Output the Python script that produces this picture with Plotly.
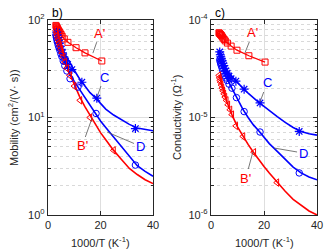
import numpy as np
import plotly.graph_objects as go

# ---------------- data ----------------
# panel b) mobility, cm^2/(V s)
mob_A_x = [3.0, 3.2, 3.4, 3.6, 3.8, 4.0, 4.3, 4.6, 5.0, 5.4, 6.2, 7.6, 10.7, 14.1, 20.5]
mob_A_y = [88, 86, 84, 82, 80, 78, 76, 74, 71, 68, 64, 59, 52, 46, 38]

mob_C_x = [3.3, 3.5, 3.7, 4.0, 4.3, 4.6, 5.0, 5.5, 6.0, 6.7, 7.5, 9.1, 12.9, 18.6, 33.3]
mob_C_y = [75, 70, 66, 62, 58, 54, 50, 46, 42, 38, 35, 31, 23, 15.8, 7.7]

mob_D_x = [3.0, 3.2, 3.4, 3.6, 3.9, 4.2, 4.5, 4.9, 5.3, 5.8, 6.4, 7.2, 8.4, 11.4, 18.3, 33.3]
mob_D_y = [70, 66, 62, 59, 55, 52, 49, 45, 42, 38, 34, 30, 25, 20.5, 11.0, 3.25]

mob_B_x = [3.0, 3.2, 3.4, 3.6, 3.9, 4.2, 4.5, 4.9, 5.3, 5.8, 6.4, 7.2, 8.3, 10.0, 12.2, 16.0, 25.0]
mob_B_y = [78, 74, 70, 66, 62, 58, 54, 50, 46, 42, 37, 32, 27, 21, 15, 10, 4.6]

fit_x = [3, 4, 5, 6, 8, 10, 12, 14, 16, 18, 20, 22, 25, 28, 31, 34, 37, 40]
mob_C_fit = [78, 64, 54, 47, 37.5, 30.5, 25, 21, 18, 16.0, 13.8, 12.2, 10.6, 9.4, 8.5, 7.8, 7.5, 7.3]
mob_D_fit = [70, 56, 46, 39, 29, 23.5, 19.5, 16, 13.5, 11.0, 9.2, 7.9, 6.3, 5.0, 4.0, 3.2, 2.8, 2.5]
mob_B_fit = [80, 62, 50, 41, 29, 22, 16.5, 13, 10.5, 8.5, 7.0, 5.9, 4.6, 3.7, 3.0, 2.6, 2.3, 2.1]

# panel c) conductivity, 1/Ohm
con_A_x = [3.0, 3.2, 3.4, 3.6, 3.8, 4.0, 4.3, 4.6, 5.0, 5.4, 6.2, 7.6, 9.8, 14.3, 20.4]
con_A_y = [7.4e-5, 7.3e-5, 7.2e-5, 7.1e-5, 7.0e-5, 6.9e-5, 6.7e-5, 6.5e-5, 6.3e-5, 6.1e-5,
           5.8e-5, 5.4e-5, 4.9e-5, 4.3e-5, 3.7e-5]

con_C_x = [3.3, 3.5, 3.7, 3.9, 4.2, 4.5, 4.8, 5.2, 5.6, 6.1, 6.8, 7.6, 9.4, 12.5, 18.5, 33.3]
con_C_y = [4.7e-5, 4.4e-5, 4.2e-5, 4.0e-5, 3.8e-5, 3.6e-5, 3.4e-5, 3.2e-5, 3.0e-5, 2.85e-5,
           2.65e-5, 2.5e-5, 2.36e-5, 1.95e-5, 1.41e-5, 7.2e-6]

con_D_x = [3.3, 3.5, 3.7, 3.9, 4.2, 4.5, 4.8, 5.2, 5.6, 6.1, 6.8, 7.9, 9.6, 12.5, 18.5, 33.3]
con_D_y = [3.9e-5, 3.7e-5, 3.55e-5, 3.4e-5, 3.2e-5, 3.0e-5, 2.85e-5, 2.7e-5, 2.55e-5, 2.4e-5,
           2.2e-5, 2.0e-5, 1.6e-5, 1.15e-5, 7.1e-6, 2.7e-6]

con_B_x = [3.0, 3.2, 3.4, 3.6, 3.9, 4.2, 4.5, 4.9, 5.3, 5.8, 6.4, 7.2, 7.9, 9.4, 12.1, 16.2, 24.9]
con_B_y = [2.7e-5, 2.55e-5, 2.4e-5, 2.3e-5, 2.15e-5, 2.0e-5, 1.88e-5, 1.75e-5, 1.62e-5, 1.5e-5,
           1.35e-5, 1.2e-5, 1.07e-5, 8.2e-6, 6.4e-6, 4.4e-6, 2.15e-6]

con_C_fit = [4.9e-5, 4.0e-5, 3.4e-5, 3.0e-5, 2.6e-5, 2.27e-5, 2.0e-5, 1.78e-5, 1.58e-5, 1.43e-5,
             1.3e-5, 1.17e-5, 1.02e-5, 8.9e-6, 7.9e-6, 7.2e-6, 6.8e-6, 6.6e-6]
con_D_fit = [4.0e-5, 3.35e-5, 2.9e-5, 2.5e-5, 1.95e-5, 1.55e-5, 1.22e-5, 1.0e-5, 8.4e-6, 7.3e-6,
             6.2e-6, 5.4e-6, 4.5e-6, 3.7e-6, 3.1e-6, 2.7e-6, 2.45e-6, 2.3e-6]
con_B_fit = [2.75e-5, 2.15e-5, 1.75e-5, 1.45e-5, 1.05e-5, 8.0e-6, 6.4e-6, 5.3e-6, 4.4e-6, 3.7e-6,
             3.15e-6, 2.7e-6, 2.15e-6, 1.75e-6, 1.45e-6, 1.25e-6, 1.1e-6, 1.0e-6]

RED = "#ff0000"
BLUE = "#0000ff"
GRID = "#dedede"
AX = "#262626"
FONT = "Liberation Sans, Arial, sans-serif"

W, H = 328, 250

fig = go.Figure()


def add_panel(xa, ya, A, C, D, B, fits):
    for fy, col in fits:
        fig.add_trace(go.Scatter(x=fit_x, y=fy, mode="lines", line=dict(color=col, width=1.6),
                                 xaxis=xa, yaxis=ya, hoverinfo="skip"))
    fig.add_trace(go.Scatter(x=A[0], y=A[1], mode="lines+markers",
                             line=dict(color=RED, width=1.3),
                             marker=dict(symbol="square-open", size=6, color=RED, line=dict(width=1)),
                             xaxis=xa, yaxis=ya))
    fig.add_trace(go.Scatter(x=C[0], y=C[1], mode="markers",
                             marker=dict(symbol="asterisk-open", size=7.5, color=BLUE, line=dict(width=1.2, color=BLUE)),
                             xaxis=xa, yaxis=ya))
    fig.add_trace(go.Scatter(x=D[0], y=D[1], mode="markers",
                             marker=dict(symbol="circle-open", size=6.5, color=BLUE, line=dict(width=1)),
                             xaxis=xa, yaxis=ya))
    fig.add_trace(go.Scatter(x=B[0], y=B[1], mode="markers",
                             marker=dict(symbol="triangle-left-open", size=6.5, color=RED, line=dict(width=1)),
                             xaxis=xa, yaxis=ya))


add_panel("x", "y", (mob_A_x, mob_A_y), (mob_C_x, mob_C_y), (mob_D_x, mob_D_y), (mob_B_x, mob_B_y),
          [(mob_C_fit, BLUE), (mob_D_fit, BLUE), (mob_B_fit, RED)])
add_panel("x2", "y2", (con_A_x, con_A_y), (con_C_x, con_C_y), (con_D_x, con_D_y), (con_B_x, con_B_y),
          [(con_C_fit, BLUE), (con_D_fit, BLUE), (con_B_fit, RED)])


def minor_vals(d0, d1):
    out = []
    for d in range(d0, d1):
        for m in range(2, 10):
            out.append(m * 10.0 ** d)
    return out


common_x = dict(range=[0, 40], tickvals=[0, 20, 40], ticks="inside", ticklen=4, tickcolor=AX,
                showline=True, linecolor=AX, linewidth=1.2, mirror="ticks", automargin=False,
                showgrid=True, gridcolor=GRID, gridwidth=1, zeroline=False,
                tickfont=dict(family=FONT, size=11, color=AX))


def ylayout(d0, d1):
    return dict(type="log", range=[d0, d1], tickvals=[10.0 ** d for d in range(d0, d1 + 1)],
                ticktext=["10<sup>%d</sup>" % d for d in range(d0, d1 + 1)],
                ticks="inside", ticklen=4, tickcolor=AX, automargin=False,
                minor=dict(tickmode="array", tickvals=minor_vals(d0, d1), ticks="inside", ticklen=2.5,
                           tickcolor=AX, showgrid=True, gridcolor="#d9d9d9", griddash="dot", gridwidth=1),
                showline=True, linecolor=AX, linewidth=1.2, mirror="ticks",
                showgrid=True, gridcolor=GRID, gridwidth=1, zeroline=False,
                tickfont=dict(family=FONT, size=11, color=AX))


fig.update_layout(
    width=W, height=H, margin=dict(l=0, r=0, t=0, b=0, autoexpand=False),
    paper_bgcolor="white", plot_bgcolor="white", showlegend=False, hovermode=False,
    xaxis=dict(domain=[48 / W, 153 / W], anchor="y", **common_x),
    xaxis2=dict(domain=[211 / W, 317 / W], anchor="y2", **common_x),
    yaxis=dict(domain=[35 / H, 230 / H], anchor="x", **ylayout(0, 2)),
    yaxis2=dict(domain=[35 / H, 230 / H], anchor="x2", **ylayout(-6, -4)),
)


def ptext(px, py, text, size=11, angle=0, xanchor="center", yanchor="middle", color=AX):
    fig.add_annotation(xref="paper", yref="paper", x=px / W, y=1 - py / H, text=text, showarrow=False,
                       textangle=angle, xanchor=xanchor, yanchor=yanchor,
                       font=dict(family=FONT, size=size, color=color))


# axis titles
ptext(13, 118, "Mobility (cm<sup>2</sup>/(V· s))", angle=-90)
ptext(176, 118, "Conductivity (Ω<sup>-1</sup>)", angle=-90)
ptext(100, 242, "1000/T (K<sup>-1</sup>)")
ptext(264, 242, "1000/T (K<sup>-1</sup>)")
# panel letters
ptext(50, 13, "b)", size=12, xanchor="left", color="black")
ptext(213, 13, "c)", size=12, xanchor="left", color="black")

LEAD = "#555555"


def label(xa, ya, x, ylog, ax, ay, text, col):
    fig.add_annotation(xref=xa, yref=ya, x=x, y=ylog, ax=ax, ay=ay, text=text, showarrow=True,
                       arrowhead=0, arrowwidth=0.8, arrowcolor=LEAD, standoff=0, startstandoff=0,
                       font=dict(family=FONT, size=13, color=col))


label("x", "y", 17.1, 1.66, 7, -20, "A'", RED)
label("x", "y", 18.7, 1.21, 7, -20, "C", BLUE)
label("x", "y", 22.5, 0.851, 33, 14, "D", BLUE)
label("x", "y", 16.8, 0.995, -10, 28, "B'", RED)
label("x2", "y2", 12.8, -4.338, 8, -20, "A'", RED)
label("x2", "y2", 18.5, -4.841, 7, -19, "C", BLUE)
label("x2", "y2", 23.8, -5.313, 29, 5, "D", BLUE)
label("x2", "y2", 15.8, -5.354, -7, 26, "B'", RED)

fig.write_html("out.html", config={"displayModeBar": False, "staticPlot": True},
               post_script="document.body.style.margin='0px';document.body.style.overflow='hidden';")
